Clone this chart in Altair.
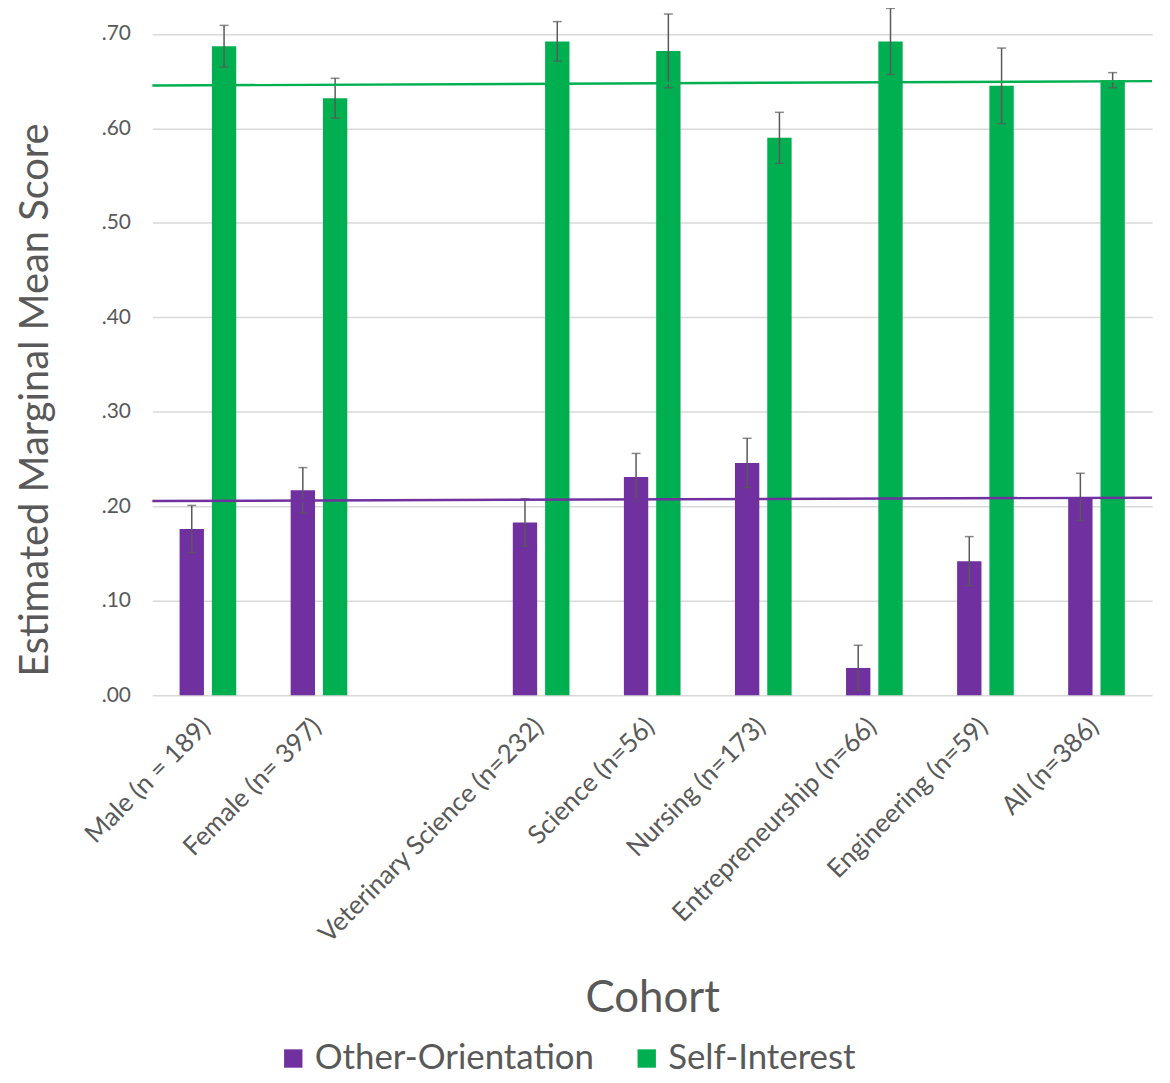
import altair as alt
import pandas as pd

categories = ["Male (n = 189)", "Female (n= 397)", " ", "Veterinary Science (n=232)",
              "Science (n=56)", "Nursing (n=173)", "Entrepreneurship (n=66)",
              "Engineering (n=59)", "All (n=386)"]
series = ["Other-Orientation", "Self-Interest"]

other_mean = [0.176, 0.217, None, 0.183, 0.231, 0.246, 0.029, 0.142, 0.210]
other_err = [0.025, 0.024, None, 0.025, 0.025, 0.026, 0.024, 0.026, 0.025]
self_mean = [0.687, 0.632, None, 0.692, 0.682, 0.590, 0.692, 0.645, 0.651]
self_err = [0.022, 0.021, None, 0.021, 0.039, 0.027, 0.035, 0.040, 0.008]

# linear trend lines (start, end) per series
trend_pos = [0.0, 1.0]
other_trend = [0.2056, 0.2092]
self_trend = [0.6453, 0.6500]

PURPLE = "#7030A0"
GREEN = "#00B050"
FONT = "Lato"
TXT = "#595959"

rows = []
for c, m, e in zip(categories, other_mean, other_err):
    if m is not None:
        rows.append({"cohort": c, "series": series[0], "mean": m, "lo": m - e, "hi": m + e})
for c, m, e in zip(categories, self_mean, self_err):
    if m is not None:
        rows.append({"cohort": c, "series": series[1], "mean": m, "lo": m - e, "hi": m + e})
df = pd.DataFrame(rows)

trows = []
for p, v in zip(trend_pos, other_trend):
    trows.append({"pos": p, "val": v, "series": series[0]})
for p, v in zip(trend_pos, self_trend):
    trows.append({"pos": p, "val": v, "series": series[1]})
tdf = pd.DataFrame(trows)

color_scale = alt.Scale(domain=series, range=[PURPLE, GREEN])
y_scale = alt.Scale(domain=[0, 0.726], nice=False)
x_enc = alt.X("cohort:N", sort=categories,
              scale=alt.Scale(domain=categories, paddingInner=0.49, paddingOuter=0.245),
              axis=alt.Axis(title="Cohort", labelAngle=-45, labelFontSize=26,
                            labelColor=TXT, labelFont=FONT, labelPadding=27,
                            labelBaseline="middle", labelOffset=-2,
                            labelLimit=0,
                            titleFontSize=44, titleColor=TXT, titleFont=FONT,
                            titleFontWeight="normal", titleY=283, titleBaseline="top",
                            domain=False, ticks=False))
xo = alt.XOffset("series:N", sort=series, scale=alt.Scale(domain=series, paddingInner=0.246))

bars = alt.Chart(df).mark_bar().encode(
    x=x_enc,
    xOffset=xo,
    y=alt.Y("mean:Q", scale=y_scale,
            axis=alt.Axis(title="Estimated Marginal Mean Score",
                          values=[0, 0.1, 0.2, 0.3, 0.4, 0.5, 0.6, 0.7],
                          labelExpr="substring(format(datum.value, '.2f'), 1)",
                          labelFontSize=21, labelColor=TXT, labelFont=FONT,
                          labelPadding=22,
                          titleFontSize=40, titleColor=TXT, titleFont=FONT,
                          titleFontWeight="normal", titleY=392, titleX=-97,
                          domain=False, ticks=False, gridColor="#d9d9d9",
                          gridWidth=1.5)),
    color=alt.Color("series:N", scale=color_scale,
                    legend=alt.Legend(title=None, orient="none", direction="horizontal",
                                      legendX=124, legendY=1036,
                                      symbolType="square", symbolSize=340,
                                      symbolStrokeWidth=0, labelFontSize=35,
                                      labelFont=FONT, labelColor=TXT, labelLimit=0,
                                      columnPadding=35, labelOffset=4)),
)

whisk = alt.Chart(df).mark_rule(color="#595959", strokeWidth=1.5).encode(
    x=alt.X("cohort:N", sort=categories), xOffset=xo,
    y=alt.Y("lo:Q", scale=y_scale), y2="hi:Q")

caps_hi = alt.Chart(df).mark_tick(color="#595959", thickness=1.5, size=9).encode(
    x=alt.X("cohort:N", sort=categories), xOffset=xo,
    y=alt.Y("hi:Q", scale=y_scale))
caps_lo = alt.Chart(df).mark_tick(color="#595959", thickness=1.5, size=9).encode(
    x=alt.X("cohort:N", sort=categories), xOffset=xo,
    y=alt.Y("lo:Q", scale=y_scale))

trend = alt.Chart(tdf).mark_line(strokeWidth=2.5).encode(
    x=alt.X("pos:Q", scale=alt.Scale(domain=[0, 1], nice=False), axis=None),
    y=alt.Y("val:Q", scale=y_scale),
    color=alt.Color("series:N", scale=color_scale, legend=None),
    detail="series:N",
)

main = alt.layer(bars, whisk, caps_hi, caps_lo).resolve_scale(x="shared")
chart = alt.layer(main, trend).resolve_scale(x="independent").properties(
    width=1004, height=689, padding={"left": 8, "top": -3, "right": 5, "bottom": 0}
).configure(font=FONT, view=alt.ViewConfig(strokeWidth=0, stroke="transparent"))

chart.save("out.html", embed_options={"renderer": "svg", "actions": False})
